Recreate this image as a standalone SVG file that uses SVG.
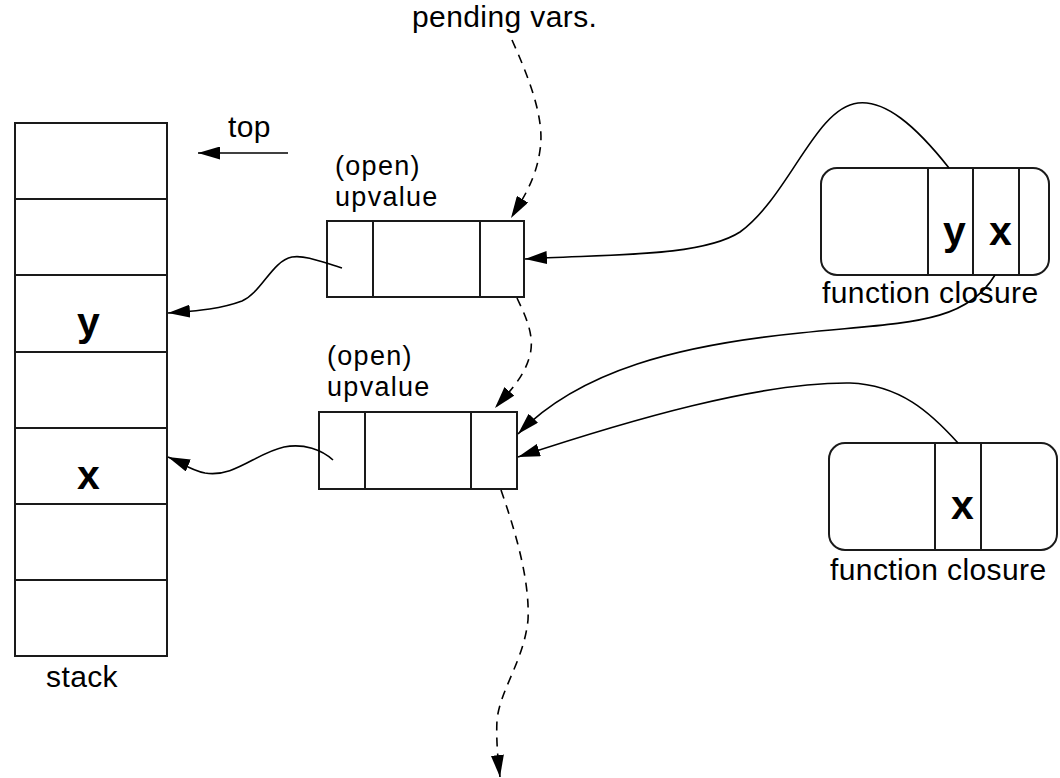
<svg xmlns="http://www.w3.org/2000/svg" width="1060" height="778" viewBox="0 0 1060 778">
  <style>
    .box { fill: #fff; stroke: #1a1a1a; stroke-width: 2; }
    .div { stroke: #1a1a1a; stroke-width: 2; }
    .lbl { font-family: "Liberation Sans", Arial, sans-serif; font-size: 30px; letter-spacing: 0.4px; fill: #000; }
    .cap { font-family: "Liberation Sans", Arial, sans-serif; font-size: 27px; letter-spacing: 1.3px; fill: #000; }
    .var { font-family: "Liberation Sans", Arial, sans-serif; font-size: 41px; font-weight: bold; fill: #000; }
    .link { fill: none; stroke: #000; stroke-width: 1.6; }
    .chain { fill: none; stroke: #000; stroke-width: 1.6; stroke-dasharray: 9 7; }
  </style>
  <defs>
    <marker id="head" viewBox="0 0 22 13" refX="22" refY="6.5" markerWidth="22" markerHeight="13" markerUnits="userSpaceOnUse" orient="auto">
      <path d="M0,0 L22,6.5 L0,13 Z" fill="#000"/>
    </marker>
  </defs>

  <!-- stack -->
  <g id="stack">
    <rect class="box" x="15" y="123" width="152" height="533"/>
    <line class="div" x1="15" y1="199" x2="167" y2="199"/>
    <line class="div" x1="15" y1="275" x2="167" y2="275"/>
    <line class="div" x1="15" y1="352" x2="167" y2="352"/>
    <line class="div" x1="15" y1="428" x2="167" y2="428"/>
    <line class="div" x1="15" y1="504" x2="167" y2="504"/>
    <line class="div" x1="15" y1="580" x2="167" y2="580"/>
    <text class="var" x="77" y="336">y</text>
    <text class="var" x="77" y="489">x</text>
    <text class="lbl" x="46" y="687">stack</text>
  </g>

  <g id="top">
    <text class="lbl" x="228" y="137">top</text>
    <line class="link" x1="288" y1="153" x2="198" y2="153" marker-end="url(#head)"/>
  </g>

  <g id="pending">
    <text class="lbl" x="412" y="27">pending vars.</text>
  </g>

  <!-- open upvalues -->
  <g id="upvalue1">
    <text class="cap" x="335" y="175">(open)</text>
    <text class="cap" x="335" y="206">upvalue</text>
    <rect class="box" x="327" y="221" width="197" height="76"/>
    <line class="div" x1="373" y1="221" x2="373" y2="297"/>
    <line class="div" x1="480" y1="221" x2="480" y2="297"/>
  </g>

  <g id="upvalue2">
    <text class="cap" x="327" y="365">(open)</text>
    <text class="cap" x="327" y="396">upvalue</text>
    <rect class="box" x="319" y="412" width="198" height="77"/>
    <line class="div" x1="365" y1="412" x2="365" y2="489"/>
    <line class="div" x1="471" y1="412" x2="471" y2="489"/>
  </g>

  <!-- closures -->
  <g id="closure1">
    <rect class="box" x="821" y="168" width="228" height="107" rx="16" ry="16"/>
    <line class="div" x1="928" y1="168" x2="928" y2="275"/>
    <line class="div" x1="973" y1="168" x2="973" y2="275"/>
    <line class="div" x1="1019" y1="168" x2="1019" y2="275"/>
    <text class="var" x="943" y="245">y</text>
    <text class="var" x="989" y="245">x</text>
    <text class="lbl" x="822" y="303">function closure</text>
  </g>

  <g id="closure2">
    <rect class="box" x="829" y="443" width="228" height="107" rx="16" ry="16"/>
    <line class="div" x1="935" y1="443" x2="935" y2="550"/>
    <line class="div" x1="981" y1="443" x2="981" y2="550"/>
    <text class="var" x="951" y="519">x</text>
    <text class="lbl" x="830" y="580">function closure</text>
  </g>

  <!-- connectors -->
  <g id="connectors">
    <path class="chain" d="M512,40 C530,80 545,120 540,150 C536,180 522,200 511,218" marker-end="url(#head)"/>
    <path class="chain" d="M517,298 C525,315 535,335 530,355 C524,378 508,393 495,408" marker-end="url(#head)"/>
    <path class="chain" d="M501,490 C515,530 530,580 528,620 C524,660 500,690 497,720 C496,740 498,760 500,777" marker-end="url(#head)"/>
    <path class="link" d="M949,168 C915,125 885,100 858,103 C815,108 790,195 740,232 C700,258 600,254 525,259" marker-end="url(#head)"/>
    <path class="link" d="M995,275 C965,325 905,322 800,333 C680,345 580,370 518,434" marker-end="url(#head)"/>
    <path class="link" d="M958,443 C930,412 900,385 850,383 C760,382 630,420 518,457" marker-end="url(#head)"/>
    <path class="link" d="M342,268 C322,262 306,255 292,257 C272,261 262,292 242,301 C218,310 192,311 168,313" marker-end="url(#head)"/>
    <path class="link" d="M333,460 C322,450 304,443 284,447 C256,453 234,478 205,473 C190,470 180,462 168,457" marker-end="url(#head)"/>
  </g>
</svg>
